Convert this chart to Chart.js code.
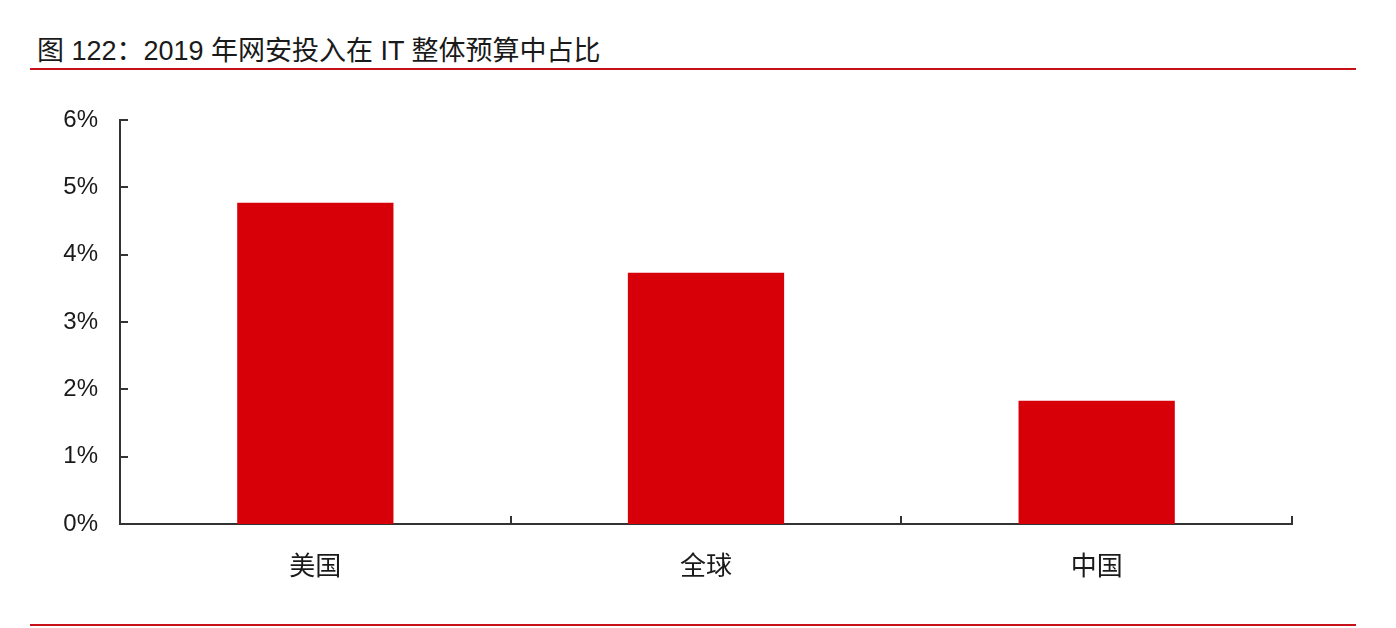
<!DOCTYPE html>
<html>
<head>
<meta charset="utf-8">
<script src="https://cdn.jsdelivr.net/npm/chart.js@4"></script>
<style>
  html, body { margin: 0; padding: 0; background: #fff; }
  #wrap { position: relative; width: 1396px; height: 628px; overflow: hidden; }
  #title {
    position: absolute; left: 37px; top: 29px;
    font: 27px "Liberation Sans", "Noto Sans CJK SC", sans-serif;
    color: #1a1a1a; white-space: nowrap;
  }
  .rule { position: absolute; left: 30px; width: 1326px; height: 2px; background: #c8101a; }
  canvas { position: absolute; left: 0; top: 0; }
</style>
</head>
<body>
<div id="wrap">
  <div id="title">图 122：2019 年网安投入在 IT 整体预算中占比</div>
  <div class="rule" style="top:68px"></div>
  <canvas id="chart" width="1396" height="628"></canvas>
  <div class="rule" style="top:624px"></div>
</div>
<script>
// categories and values (% of IT budget, 2019)
const categories = ['美国', '全球', '中国']
const share_values = [4.77, 3.73, 1.83]
const y_max = 6
const y_step = 1

const font_family = '"Liberation Sans", "Noto Sans CJK SC", sans-serif'
const axis_color = '#333333'

// draws the short inward tick marks like the original
const inward_ticks = {
    id: 'inward_ticks',
    afterDraw(chart) {
        const ctx = chart.ctx
        const x_scale = chart.scales.x
        const y_scale = chart.scales.y
        const len = 8
        ctx.save()
        ctx.strokeStyle = axis_color
        ctx.lineWidth = 2
        ctx.beginPath()
        y_scale.ticks.forEach((t, i) => {
            const y = Math.round(y_scale.getPixelForTick(i))
            ctx.moveTo(x_scale.left, y)
            ctx.lineTo(x_scale.left + len, y)
        })
        const w = (x_scale.right - x_scale.left) / categories.length
        for (let i = 1; i <= categories.length; i++) {
            const x = Math.round(x_scale.left + i * w)
            ctx.moveTo(x, y_scale.bottom)
            ctx.lineTo(x, y_scale.bottom - len)
        }
        ctx.stroke()
        ctx.restore()
    }
}

new Chart(document.getElementById('chart').getContext('2d'), {
    type: 'bar',
    data: {
        labels: categories,
        datasets: [{
            data: share_values,
            backgroundColor: '#d80008',
            borderWidth: 0,
            barPercentage: 0.4,
            categoryPercentage: 1
        }]
    },
    plugins: [inward_ticks],
    options: {
        responsive: false,
        animation: false,
        devicePixelRatio: 1,
        layout: { padding: { top: 120, right: 104, left: 0, bottom: 0 } },
        plugins: { legend: { display: false }, tooltip: { enabled: false } },
        scales: {
            x: {
                afterFit: s => { s.height = 104 },
                grid: { display: false, drawTicks: false },
                border: { display: true, color: axis_color, width: 2 },
                ticks: { color: '#1a1a1a', padding: 28, font: { family: font_family, size: 26 } }
            },
            y: {
                min: 0,
                max: y_max,
                afterFit: s => { s.width = 120 },
                grid: { display: false, drawTicks: false },
                border: { display: true, color: axis_color, width: 2 },
                ticks: {
                    stepSize: y_step,
                    color: '#1a1a1a',
                    padding: 22,
                    font: { family: font_family, size: 24 },
                    callback: v => v + '%'
                }
            }
        }
    }
})
</script>
</body>
</html>
